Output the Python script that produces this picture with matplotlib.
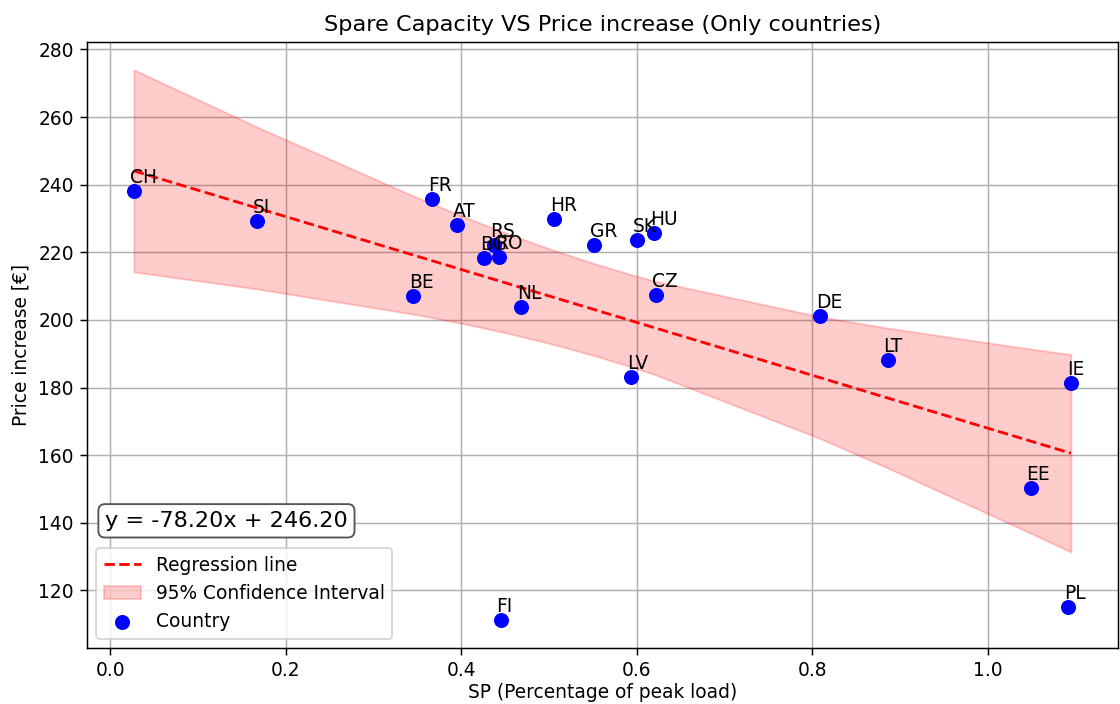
"""Spare capacity vs price increase, countries only, with OLS fit and 95% CI."""

import numpy as np
import matplotlib

matplotlib.use("Agg")
import matplotlib.pyplot as plt

countries = ["CH", "SI", "FR", "AT", "BG", "RS", "RO", "BE", "NL", "HR", "GR",
             "SK", "HU", "CZ", "LV", "DE", "LT", "IE", "EE", "PL", "FI"]
spare_capacity = [0.027, 0.167, 0.367, 0.395, 0.426, 0.438, 0.443, 0.345, 0.468, 0.506, 0.551,
                  0.600, 0.620, 0.622, 0.594, 0.809, 0.886, 1.095, 1.049, 1.092, 0.445]
price_increase = [238.2, 229.3, 235.9, 228.1, 218.4, 222.2, 218.7, 207.1, 203.9, 229.9, 222.2,
                  223.7, 225.8, 207.4, 183.1, 201.2, 188.1, 181.3, 150.2, 115.0, 111.1]

# coefficients as reported on the chart
slope = -78.20
intercept = 246.20

T_975_DF19 = 2.093  # t critical value, 95% two-sided, n - 2 = 19
DPI = 134


def line_with_ci(x, y):
    x = np.asarray(x)
    y = np.asarray(y)
    n = len(x)
    resid = y - (slope * x + intercept)
    s = np.sqrt(np.sum(resid ** 2) / (n - 2))
    xs = np.sort(x)
    y_line = slope * xs + intercept
    sxx = np.sum((x - x.mean()) ** 2)
    half = T_975_DF19 * s * np.sqrt(1 / n + (xs - x.mean()) ** 2 / sxx)
    return xs, y_line, y_line - half, y_line + half


def main() -> None:
    fig = plt.figure(figsize=(1120 / DPI, 704 / DPI), dpi=DPI)
    ax = fig.add_axes([0.0777, 0.0795, 0.9203, 0.8605])

    xs, y_line, lo, hi = line_with_ci(spare_capacity, price_increase)

    ax.plot(xs, y_line, "--", color="red", label="Regression line", zorder=3)
    ax.fill_between(xs, lo, hi, color="red", alpha=0.2, label="95% Confidence Interval")
    ax.scatter(spare_capacity, price_increase, color="blue", s=50, label="Country", zorder=4)

    for name, xv, yv in zip(countries, spare_capacity, price_increase):
        ax.annotate(name, (xv, yv), textcoords="offset pixels", xytext=(-4, 8),
                    ha="left", va="baseline", zorder=5)

    ax.text(0.0175, 0.21, f"y = {slope:.2f}x + {intercept:.2f}", transform=ax.transAxes,
            fontsize=12, va="center", ha="left",
            bbox=dict(boxstyle="round,pad=0.3", fc="white", ec="#555555", lw=1.0))

    ax.set_xticks([0.0, 0.2, 0.4, 0.6, 0.8, 1.0])
    ax.set_yticks(range(120, 281, 20))
    ax.set_xlabel("SP (Percentage of peak load)", labelpad=1.8)
    ax.set_ylabel("Price increase [€]")
    ax.set_title("Spare Capacity VS Price increase (Only countries)")
    ax.grid(True)
    ax.set_axisbelow(True)
    ax.legend(loc="lower left")

    fig.savefig("out.png", dpi=DPI)
    plt.close(fig)


if __name__ == "__main__":
    main()
